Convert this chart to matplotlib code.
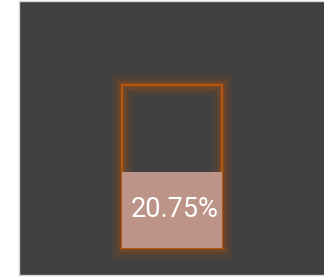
import matplotlib
matplotlib.use("Agg")
import matplotlib.pyplot as plt
from matplotlib.patches import Rectangle

# data
value = 20.75          # percent shown
gauge_max = 44.5       # top of the container
label = f"{value:.2f}%"

# colours
panel_bg = "#404040"
edge_col = "#b4560e"
fill_col = "#bc9488"

fig = plt.figure(figsize=(3.24, 2.78), dpi=100, facecolor="white")
ax = fig.add_axes([19 / 324, 3 / 278, 305 / 324, 274 / 278])
ax.set_facecolor(panel_bg)
for s in ax.spines.values():
    s.set_color("#d4d4d4")
    s.set_linewidth(1.0)
ax.spines["right"].set_visible(False)
ax.set_xticks([])
ax.set_yticks([])

# glow around the container
for lw, a in [(16, 0.07), (12, 0.09), (8, 0.12), (5, 0.16), (3, 0.2)]:
    ax.add_patch(Rectangle((-0.5, 0), 1, gauge_max, fill=False,
                           edgecolor=edge_col, linewidth=lw, alpha=a,
                           joinstyle="miter"))

# container outline
ax.bar(0, gauge_max, width=1, fill=False, edgecolor=edge_col,
       linewidth=1.5, zorder=3)
# filled level
ax.bar(0, value, width=1, color=fill_col, zorder=4)

ax.text(0.03, value / 2, label, color="white", fontsize=19.5,
        family="Roboto", ha="center", va="center", zorder=5)

ax.set_xlim(-1.53, 1.52)
ax.set_ylim(-7.37, 67.43)

fig.savefig("out.png", dpi=100, facecolor=fig.get_facecolor())
